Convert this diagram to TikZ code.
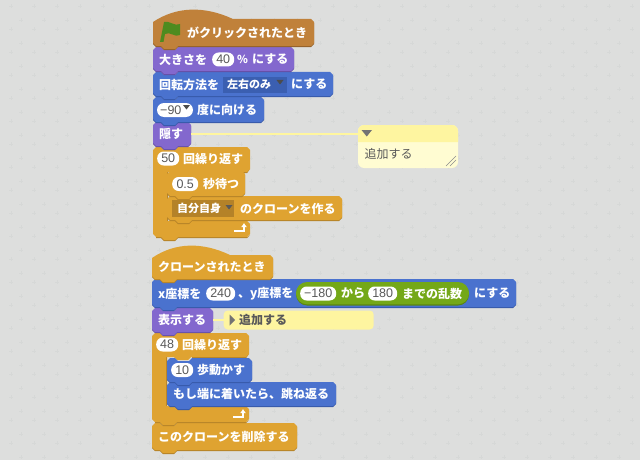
\documentclass[tikz,border=0pt]{standalone}
\usepackage{fontspec}
\usepackage{xcolor}
\setmainfont{Noto Sans CJK JP}
\newfontfamily\numfont{Liberation Sans}
\usetikzlibrary{positioning, calc, arrows.meta}

\definecolor{bgcol}{HTML}{DDDEDD}
\definecolor{markcol}{HTML}{D6D8D7}
\definecolor{flagcol}{HTML}{4E8B1F}
\definecolor{event}{HTML}{C0813A}
\definecolor{eventdark}{HTML}{96632B}
\definecolor{looks}{HTML}{8368CE}
\definecolor{looksdark}{HTML}{6650A8}
\definecolor{motion}{HTML}{4A72CE}
\definecolor{motiondark}{HTML}{3658A8}
\definecolor{ctrl}{HTML}{DFA331}
\definecolor{ctrldark}{HTML}{B48228}
\definecolor{oper}{HTML}{74A818}
\definecolor{operdark}{HTML}{5A8510}
\definecolor{noteline}{HTML}{FFF69E}
\definecolor{notehead}{HTML}{FEF5A0}
\definecolor{notebody}{HTML}{FFFCD2}

\tikzset{
  lbl/.style={text=white, font=\bfseries\fontsize{12}{12}\selectfont, inner sep=0pt, anchor=west},
  pill/.style={fill=white, text=black!65, rounded corners=6.5pt, inner sep=0pt, minimum height=14pt, font=\numfont\fontsize{12.5}{12.5}\selectfont, anchor=west},
}

% stack block: left, top, right, bottom, colour
\newcommand{\blockpath}[4]{(#1+3,#2) -- (#1+8,#2) -- (#1+11,#2+3) -- (#1+22,#2+3) -- (#1+25,#2)
  -- (#3-3,#2) -- (#3,#2+3) -- (#3,#4-3) -- (#3-3,#4) -- (#1+25,#4) -- (#1+22,#4+3) -- (#1+11,#4+3)
  -- (#1+8,#4) -- (#1+3,#4) -- (#1,#4-3) -- (#1,#2+3) -- cycle}
\newcommand{\scblock}[5]{
  \fill[#5dark] [yshift=-1.2pt] \blockpath{#1}{#2}{#3}{#4};
  \fill[#5] \blockpath{#1}{#2}{#3}{#4};
}
% hat block: left, top, right, bottom, bump width, colour
\newcommand{\schat}[6]{
  \fill[#6dark] [yshift=-1.2pt] (#1,#2+3) .. controls (#1+#5*0.3,#2-13) and (#1+#5*0.65,#2-13) .. (#1+#5,#2)
    -- (#3-3,#2) -- (#3,#2+3) -- (#3,#4-3) -- (#3-3,#4) -- (#1+25,#4) -- (#1+22,#4+3) -- (#1+11,#4+3)
    -- (#1+8,#4) -- (#1+3,#4) -- (#1,#4-3) -- cycle;
  \fill[#6] (#1,#2+3) .. controls (#1+#5*0.3,#2-13) and (#1+#5*0.65,#2-13) .. (#1+#5,#2)
    -- (#3-3,#2) -- (#3,#2+3) -- (#3,#4-3) -- (#3-3,#4) -- (#1+25,#4) -- (#1+22,#4+3) -- (#1+11,#4+3)
    -- (#1+8,#4) -- (#1+3,#4) -- (#1,#4-3) -- cycle;
}
% repeat block: left, top, right, head bottom, foot top, bottom
\newcommand{\scloop}[6]{
  \fill[ctrldark] [yshift=-1.2pt] (#1+3,#6-1) -- (#3-3,#6-1) -- (#3,#6-3) -- (#3-3,#6) -- (#1+25,#6) -- (#1+22,#6+3) -- (#1+11,#6+3) -- (#1+8,#6) -- (#1+3,#6) -- cycle;
  \fill[ctrldark] (#1+12,#4-1) rectangle (#1+15,#5+1) (#3-3,#4-1) -- (#3,#4-3) -- (#3-3,#4+1.2) -- (#1+40,#4+1.2) -- (#1+40,#4-1) -- cycle;
  \fill[ctrl] (#1+3,#2) -- (#1+8,#2) -- (#1+11,#2+3) -- (#1+22,#2+3) -- (#1+25,#2) -- (#3-3,#2) -- (#3,#2+3)
    -- (#3,#4-3) -- (#3-3,#4) -- (#1+39,#4) -- (#1+36,#4+3) -- (#1+25,#4+3) -- (#1+22,#4) -- (#1+14,#4)
    -- (#1+14,#5) -- (#3-3,#5) -- (#3,#5+3)
    -- (#3,#6-3) -- (#3-3,#6) -- (#1+25,#6) -- (#1+22,#6+3) -- (#1+11,#6+3) -- (#1+8,#6) -- (#1+3,#6)
    -- (#1,#6-3) -- (#1,#2+3) -- cycle;
}
% return arrow of a repeat block
\newcommand{\scturn}[2]{
  \draw[white, line width=1.8pt, -{Latex[length=4pt,width=6pt]}] (#1,#2) -- (#1+10,#2) -- (#1+10,#2-8);
}
% faint cross of the script area
\newcommand{\scmark}[2]{
  \draw[markcol, line width=.7pt] (#1-1.8,#2) -- (#1+1.8,#2) (#1,#2-1.8) -- (#1,#2+1.8);
}

\begin{document}
\begin{tikzpicture}[x=1pt, y=-1pt]
\fill[bgcol] (0,0) rectangle (640,460);
\useasboundingbox (0,0) rectangle (640,460);

\foreach \i in {0,...,27}
  \foreach \j in {0,...,20} {
    \scmark{\i*23+11}{\j*23+6}
    \scmark{\i*23+21}{\j*23+20}
  }

% first script, drawn from the bottom up
\scloop{153}{147}{250}{172}{221}{237}
\scblock{167}{196}{342}{220}{ctrl}
\scblock{167}{171}{245}{196}{ctrl}
\scblock{153}{122}{191}{146}{looks}
\scblock{153}{97}{264}{122}{motion}
\scblock{153}{72}{333}{96}{motion}
\scblock{153}{47}{294}{71}{looks}
\schat{153}{19}{314}{46}{80}{event}
\scturn{234}{231}

\fill[flagcol] (160,42) -- (163.5,42) -- (165,34) .. controls (170,31) and (175,38) .. (180,35)
  -- (180,24) .. controls (175,27) and (169,20) .. (164,22) -- cycle;
\node[lbl] (clicked) at (187,32.5) {がクリックされたとき};

\node[lbl] (sizea) at (159,59.5) {大きさを};
\node[pill, minimum width=22pt] (sizeval) at (212,59.5) {40};
\node[lbl] (sizepct) at (237,59.5) {\fontsize{11}{11}\selectfont\%};
\node[lbl] (sizeb) at (252,59.5) {にする};

\node[lbl] (rota) at (159,84.5) {回転方法を};
\fill[motiondark!75!motion] (223,77) rectangle (287,93);
\node[lbl] (rotval) at (227,84.5) {\fontsize{11}{11}\selectfont 左右のみ};
\fill[black!70] (276.5,80) -- (283.5,80) -- (280,84.5) -- cycle;
\node[lbl] (rotb) at (291,84.5) {にする};

\fill[white, rounded corners=7pt] (157,103) rectangle (193,117);
\node[pill, fill=none] (dirval) at (160,110) {−90};
\fill[black!70] (183,105) -- (190,105) -- (186.5,109.5) -- cycle;
\node[lbl] (dirb) at (197,109.5) {度に向ける};

\node[lbl] (hidetxt) at (159,134) {隠す};
\coordinate (hideend) at (191,134);

\node[pill, minimum width=22pt] (repa) at (157,158.5) {50};
\node[lbl] (repb) at (183,158.5) {回繰り返す};

\node[pill, minimum width=26pt] (waita) at (172,184) {0.5};
\node[lbl] (waitb) at (203,184) {秒待つ};

\fill[ctrldark] (172,200) rectangle (234,217);
\node[lbl] (cloneval) at (177,208.5) {\fontsize{11}{11}\selectfont 自分自身};
\fill[black!65] (225.5,205) -- (232.5,205) -- (229,209.5) -- cycle;
\node[lbl] (cloneb) at (240,208.5) {のクローンを作る};

% comment of the first script
\node[fill=notebody, rounded corners=6pt, minimum width=100pt, minimum height=43pt, inner sep=0pt] (note) at (408,146.5) {};
\fill[notehead] (358,142) -- (358,131) arc[start angle=180, end angle=90, radius=6pt] -- (452,125)
  arc[start angle=90, end angle=0, radius=6pt] -- (458,142) -- cycle;
\draw[noteline, line width=1.4pt] (hideend) -- (note.west |- hideend);
\fill[black!55] (361.5,130) -- (372,130) -- (366.75,136.5) -- cycle;
\node[lbl, text=black!65, font=\fontsize{12}{12}\selectfont] (notetxt) at (364.5,153.5) {追加する};
\draw[black!45, line width=.6pt] (446,166) -- (456,156) (450,166) -- (456,160);

% second script, drawn from the bottom up
\scblock{152}{423}{297}{450}{ctrl}
\scloop{152}{333}{249}{357}{406}{422}
\scblock{167}{382}{336}{406}{motion}
\scblock{167}{358}{252}{382}{motion}
\scblock{152}{308}{213}{332}{looks}
\scblock{152}{279}{516}{307}{motion}
\schat{152}{255}{273}{279}{78}{ctrl}
\scturn{233}{417}

\node[lbl] (clonehat) at (158,267) {クローンされたとき};

\node[lbl] (gotoa) at (158,293.5) {x座標を};
\node[pill, minimum width=29pt] (gotox) at (206,293.5) {240};
\node[lbl] (gotob) at (238,293.5) {、y座標を};
\fill[operdark, rounded corners=11pt] (296,283) rectangle (469,305.5);
\fill[oper, rounded corners=11pt] (296,282) rectangle (469,304.3);
\node[pill, minimum width=36pt] (randa) at (300,293.5) {−180};
\node[lbl] (randb) at (341,293.5) {から};
\node[pill, minimum width=29pt] (randc) at (368,293.5) {180};
\node[lbl] (randd) at (402,293.5) {までの乱数};
\node[lbl] (gotoc) at (474,293.5) {にする};

\node[lbl] (showtxt) at (158,320) {表示する};
\coordinate (showend) at (213,320);
\node[fill=notehead, rounded corners=4pt, minimum width=150pt, minimum height=19pt, inner sep=0pt, anchor=west] (shownote) at (223.5,320) {};
\draw[noteline, line width=1.4pt] (showend) -- (shownote.west |- showend);
\fill[black!55] (229.5,314.5) -- (235,320) -- (229.5,325.5) -- cycle;
\node[lbl, text=black!65] (shownotetxt) at (239,320) {追加する};

\node[pill, minimum width=22pt] (repc) at (156,344.5) {48};
\node[lbl] (repd) at (182,344.5) {回繰り返す};

\node[pill, minimum width=22pt] (stepa) at (171,370) {10};
\node[lbl] (stepb) at (197,370) {歩動かす};

\node[lbl] (bounce) at (173,394) {もし端に着いたら、跳ね返る};
\node[lbl] (delclone) at (158,437) {このクローンを削除する};
\end{tikzpicture}
\end{document}
